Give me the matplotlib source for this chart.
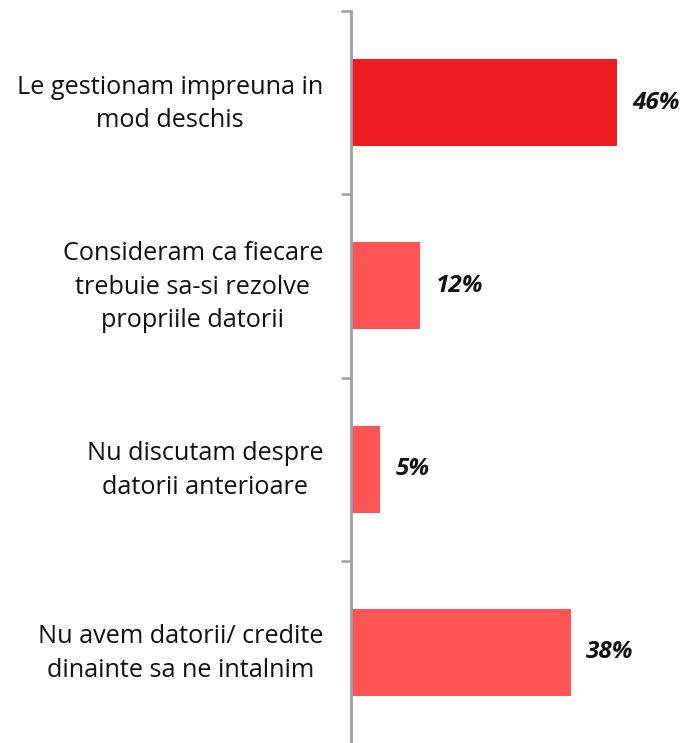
import matplotlib
matplotlib.use("Agg")
import matplotlib.pyplot as plt

categories = [
    "Le gestionam impreuna in\nmod deschis",
    "Consideram ca fiecare\ntrebuie sa-si rezolve\npropriile datorii",
    "Nu discutam despre\ndatorii anterioare",
    "Nu avem datorii/ credite\ndinainte sa ne intalnim",
]
values = [46, 12, 5, 38]
labels = ["46%", "12%", "5%", "38%"]
colors = ["#ED1C24", "#FF5454", "#FF5454", "#FF5454"]

fig = plt.figure(figsize=(6.88, 7.43), dpi=100)
ax = fig.add_axes([351/688, -1/743, 1 - 351/688, (743 - 11 + 1) / 743])

ys = list(range(len(categories)))
ax.barh(ys, values, height=0.475, color=colors)
ax.set_ylim(len(categories) - 0.5, -0.5)
ax.set_xlim(0, (688 - 351) / (266 / 46))

for y, v, lab in zip(ys, values, labels):
    ax.annotate(lab, (v, y), xytext=(11, 0), textcoords="offset points",
                ha="left", va="center", fontsize=17.5, fontweight="bold",
                fontstyle="italic", color="#111111", family="Open Sans")

for y, cat in zip(ys, categories):
    ax.annotate(cat, (0, y), xycoords=("axes fraction", "data"),
                xytext=(-20, -1), textcoords="offset points",
                ha="right", va="center", multialignment="center",
                fontsize=18.2, family="Open Sans", color="#111111",
                linespacing=1.45, annotation_clip=False)

ax.set_yticks([i - 0.5 for i in range(len(categories) + 1)])
ax.set_yticklabels([])
ax.tick_params(axis="y", length=7, width=1.8, color="#a0a0a0")
ax.set_xticks([])
for s in ["top", "right", "bottom"]:
    ax.spines[s].set_visible(False)
ax.spines["left"].set_color("#a0a0a0")
ax.spines["left"].set_linewidth(2)

fig.savefig("out.png", dpi=100)
